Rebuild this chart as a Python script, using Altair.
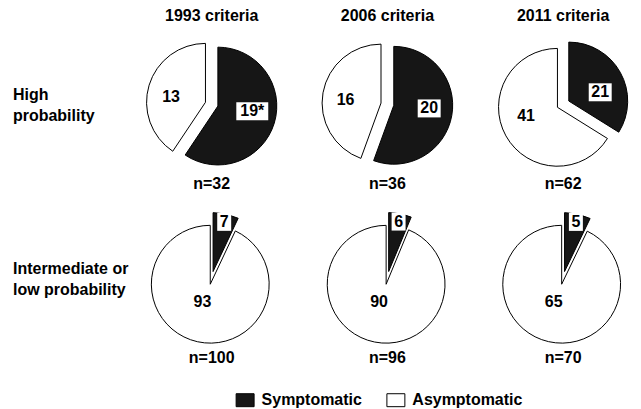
import altair as alt
import pandas as pd

criteria = ["1993 criteria", "2006 criteria", "2011 criteria"]
rows = ["High\nprobability", "Intermediate or\nlow probability"]
statuses = ["Symptomatic", "Asymptomatic"]

symptomatic_high = [19, 20, 21]
asymptomatic_high = [13, 16, 41]
symptomatic_low = [7, 6, 5]
asymptomatic_low = [93, 90, 65]
marks_high = ["*", "", ""]
marks_low = ["", "", ""]

recs = []
for r, (sym, asy, mk) in enumerate([(symptomatic_high, asymptomatic_high, marks_high),
                                      (symptomatic_low, asymptomatic_low, marks_low)]):
    for c, crit in enumerate(criteria):
        recs.append(dict(prob=rows[r], criteria=crit, status="Symptomatic", order=0,
                         count=sym[c], label=f"{sym[c]}{mk[c]}"))
        recs.append(dict(prob=rows[r], criteria=crit, status="Asymptomatic", order=1,
                         count=asy[c], label=f"{asy[c]}"))
df = pd.DataFrame(recs)

FONT = "Liberation Sans"
R = 59
D = 6.5

xs = alt.Scale(domain=[-70, 70])
ys = alt.Scale(domain=[-90, 70])

base = alt.Chart().transform_joinaggregate(
    total="sum(count)", groupby=["prob", "criteria"]
).transform_window(
    cum="sum(count)", sort=[alt.SortField("order")], groupby=["prob", "criteria"],
    frame=[None, 0]
).transform_calculate(
    t0="2*PI*(datum.cum-datum.count)/datum.total",
    t1="2*PI*datum.cum/datum.total",
    frac="datum.count/datum.total",
).transform_calculate(
    mid="(datum.t0+datum.t1)/2",
).transform_calculate(
    ox=f"{D}*sin(datum.mid)",
    oy=f"{D}*cos(datum.mid)",
    lr="datum.frac < 0.15 ? 51 : 36",
    vf="datum.frac < 0.15 ? 1 : 0.5",
).transform_calculate(
    lx="datum.ox + datum.lr*sin(datum.mid)",
    ly="datum.oy + datum.lr*datum.vf*cos(datum.mid)",
    bw="9*length(datum.label) + 5",
    ny="-80",
    rowy="4",
).transform_calculate(
    bx0="datum.lx - datum.bw/2",
    bx1="datum.lx + datum.bw/2",
    by0="datum.ly - 9",
    by1="datum.ly + 9",
)

color = alt.Color("status:N", scale=alt.Scale(domain=statuses, range=["#161616", "#ffffff"]),
                  legend=alt.Legend(title=None, orient="none", direction="horizontal",
                                    legendX=94, legendY=357))

arcs = base.mark_arc(outerRadius=R, stroke="black", strokeWidth=1).encode(
    x=alt.X("ox:Q", scale=xs, axis=None),
    y=alt.Y("oy:Q", scale=ys, axis=None),
    theta=alt.Theta("t0:Q", scale=None),
    theta2="t1:Q",
    fill=color,
)

boxes = base.transform_filter("datum.status == 'Symptomatic'").mark_rect(fill="white").encode(
    x=alt.X("bx0:Q", scale=xs, axis=None), x2="bx1:Q",
    y=alt.Y("by0:Q", scale=ys, axis=None), y2="by1:Q",
)

labels = base.mark_text(font=FONT, fontSize=16, fontWeight="bold", color="black",
                        baseline="middle", align="center").encode(
    x=alt.X("lx:Q", scale=xs, axis=None),
    y=alt.Y("ly:Q", scale=ys, axis=None),
    text="label:N",
)

ntext = base.transform_filter("datum.status == 'Symptomatic'").transform_calculate(
    ntxt="'n=' + datum.total"
).mark_text(font=FONT, fontSize=16, fontWeight="bold", color="black", baseline="middle").encode(
    x=alt.value(70),
    y=alt.Y("ny:Q", scale=ys, axis=None),
    text="ntxt:N",
)

rowlab = base.transform_filter(
    f"datum.status == 'Symptomatic' && datum.criteria == '{criteria[0]}'"
).transform_calculate(
    rtxt="split(datum.prob, '\\n')"
).mark_text(font=FONT, fontSize=16, fontWeight="bold", color="black", align="left",
            baseline="alphabetic", lineHeight=21).encode(
    x=alt.value(-129),
    y=alt.Y("rowy:Q", scale=ys, axis=None),
    text="rtxt:N",
)

layer = alt.layer(arcs, boxes, labels, ntext, rowlab).properties(width=140, height=160)

chart = layer.facet(
    data=df,
    column=alt.Column("criteria:N", sort=criteria,
                      header=alt.Header(title=None, labelFont=FONT, labelFontSize=16,
                                        labelFontWeight="bold", labelColor="black",
                                        labelPadding=10)),
    row=alt.Row("prob:N", sort=rows, header=None),
    spacing={"row": 14, "column": 36},
).properties(
    padding={"left": 5, "top": 0, "right": 0, "bottom": 0}
).configure(font=FONT).configure_view(strokeWidth=0, stroke="transparent").configure_legend(
    symbolType="M-1,-0.72H1V0.72H-1Z", symbolSize=324, symbolStrokeColor="black",
    symbolStrokeWidth=1, labelFont=FONT, labelFontSize=16, labelFontWeight="bold",
    labelColor="black", columnPadding=22, labelOffset=7, padding=0,
)

chart.save("out.html", embed_options={"renderer": "svg", "actions": False})
